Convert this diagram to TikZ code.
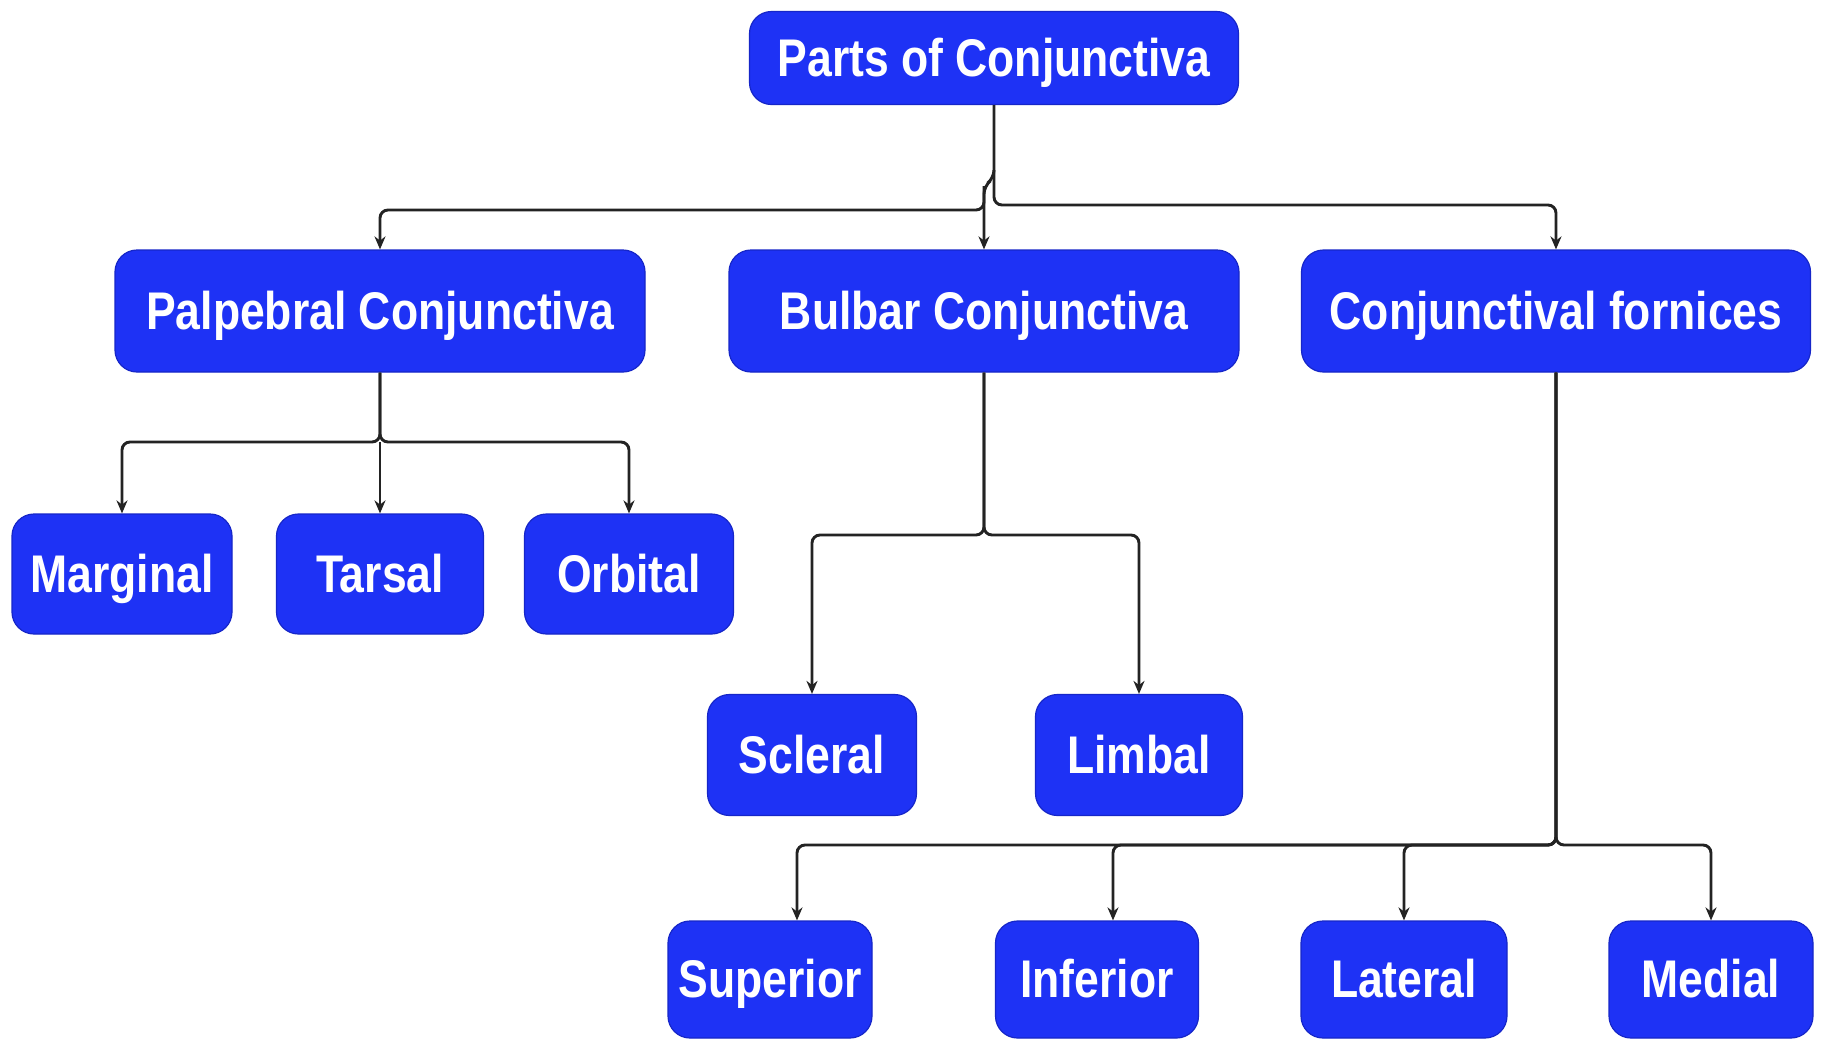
\documentclass[tikz,border=0pt]{standalone}
\usepackage{fontspec}
\newfontfamily\boxfont[FakeStretch=0.84]{Liberation Sans}
\usetikzlibrary{arrows.meta}
\definecolor{boxblue}{RGB}{30,50,245}
\definecolor{boxedge}{RGB}{22,38,200}
\definecolor{linegray}{RGB}{35,35,35}
\begin{document}
\begin{tikzpicture}[x=0.5pt,y=-0.5pt,
  part/.style={rectangle, rounded corners=11pt, fill=boxblue, draw=boxedge, line width=0.6pt,
    text=white, font=\boxfont\bfseries\fontsize{26.5}{30}\selectfont, inner sep=0pt,
    text height=18pt, text depth=0pt, anchor=center},
  row1/.style={part, minimum height=61pt},
  row3/.style={part, minimum height=60pt},
  row4/.style={part, minimum height=60.5pt},
  row5/.style={part, minimum height=58.5pt},
  link/.style={draw=linegray, line width=1.45pt, rounded corners=4pt},
  arr/.style={link, -{Stealth[length=6.5pt,width=5.5pt]}}]
\useasboundingbox (0,0) rectangle (1822,1040);
\fill[white] (0,0) rectangle (1822,1040);

% nodes
\node[part, minimum width=244.5pt, minimum height=46.5pt] (root) at (994,58) {Parts of Conjunctiva};

\node[row1, minimum width=265pt] (palp) at (380,311) {Palpebral Conjunctiva};
\node[row1, minimum width=255pt] (bulb) at (984,311) {Bulbar Conjunctiva};
\node[row1, minimum width=254.5pt] (forn) at (1556,311) {Conjunctival fornices};

\node[row3, minimum width=110pt] (marg) at (122,574) {Marginal};
\node[row3, minimum width=103.5pt] (tars) at (380,574) {Tarsal};
\node[row3, minimum width=104.5pt] (orb) at (629,574) {Orbital};

\node[row4, minimum width=104.5pt] (scl) at (812,755) {Scleral};
\node[row4, minimum width=103.5pt] (limb) at (1139,755) {Limbal};

\node[row5, minimum width=102pt] (sup) at (770,979.5) {Superior};
\node[row5, minimum width=101.5pt] (inf) at (1097,979.5) {Inferior};
\node[row5, minimum width=103pt] (lat) at (1404,979.5) {Lateral};
\node[row5, minimum width=102pt] (med) at (1711,979.5) {Medial};

% junction coordinates
\coordinate (r0) at (994,178);
\coordinate (r1) at (984,186);
\coordinate (rl) at (984,210);
\coordinate (rr) at (994,205);
\coordinate (pj) at (380,442);
\coordinate (bj) at (984,535);
\coordinate (fj) at (1556,845);

% root connectors
\draw[arr] (root.south) -- (r0) -- (r1) -- (bulb.north);
\draw[arr] (r1) -- (rl) -| (palp.north);
\draw[arr] (r0 |- 0,170) -- (rr) -| (forn.north);

% palpebral
\draw[arr] (palp.south) -- (pj) -| (marg.north);
\draw[arr] (palp.south) -- (pj) -| (orb.north);
\draw[arr] (pj) -- (tars.north);

% bulbar
\draw[arr] (bulb.south) -- (bj) -| (scl.north);
\draw[arr] (bulb.south) -- (bj) -| (limb.north);

% fornices
\draw[arr] (forn.south) -- (fj) -| ([xshift=13.5pt]sup.north);
\draw[arr] (forn.south) -- (fj) -| ([xshift=8pt]inf.north);
\draw[arr] (forn.south) -- (fj) -| (lat.north);
\draw[arr] (forn.south) -- (fj) -| (med.north);
\end{tikzpicture}
\end{document}
